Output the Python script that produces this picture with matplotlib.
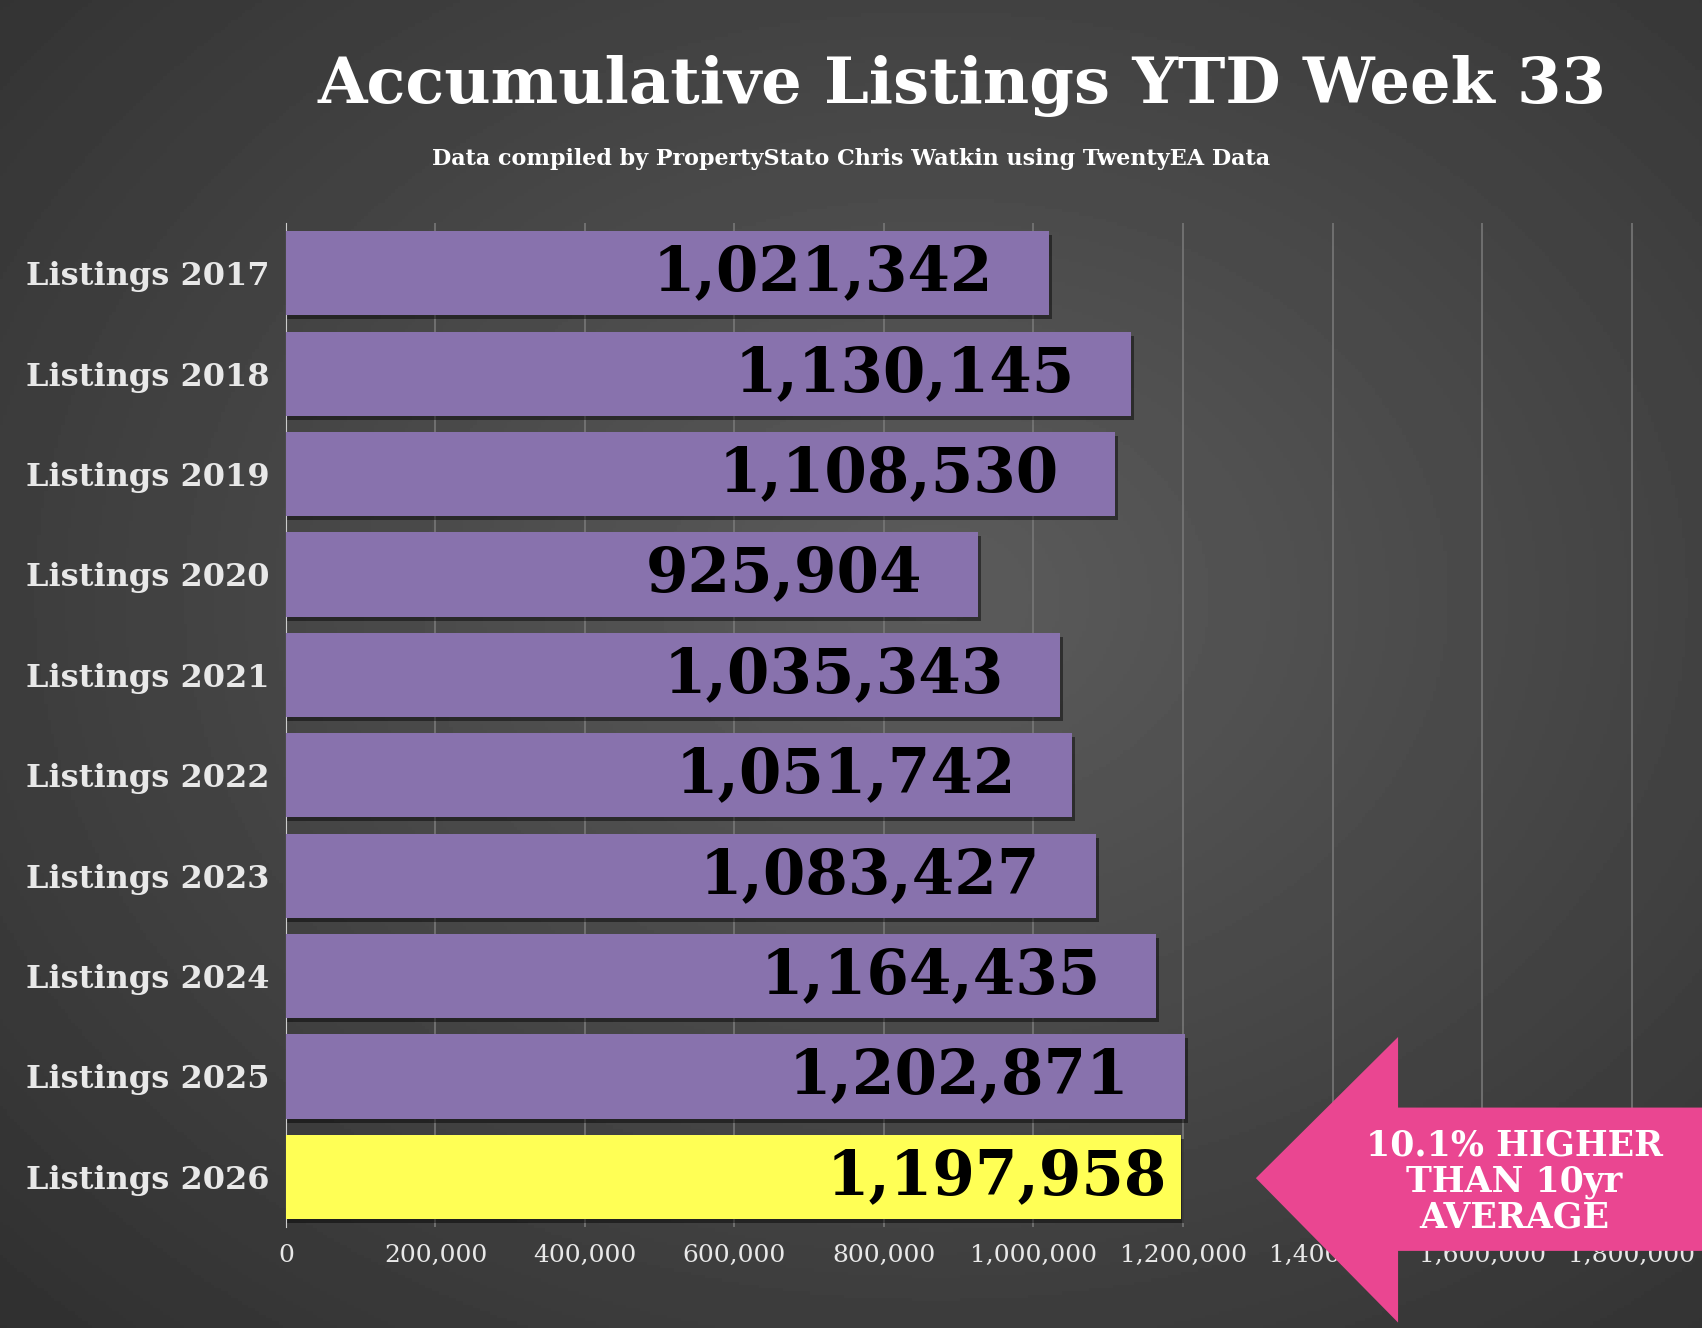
import matplotlib.pyplot as plt
import numpy as np
from matplotlib.patches import Polygon

# data
years = ["Listings 2017", "Listings 2018", "Listings 2019", "Listings 2020", "Listings 2021",
         "Listings 2022", "Listings 2023", "Listings 2024", "Listings 2025", "Listings 2026"]
values = [1021342, 1130145, 1108530, 925904, 1035343, 1051742, 1083427, 1164435, 1202871, 1197958]
ticks = [0, 200000, 400000, 600000, 800000, 1000000, 1200000, 1400000, 1600000, 1800000]

fig = plt.figure(figsize=(17.02, 13.28), dpi=100)

# radial gradient background
bg = fig.add_axes([0, 0, 1, 1])
yy, xx = np.mgrid[0:1:400j, 0:1:500j]
r = np.sqrt(((xx - 0.55) / 0.9) ** 2 + ((yy - 0.45) / 0.9) ** 2)
bg.imshow(0.36 - 0.2 * r, cmap="gray", vmin=0, vmax=1, aspect="auto", extent=[0, 1, 0, 1])
bg.axis("off")

ax = fig.add_axes([0.168, 0.076, 0.795, 0.756])
ax.patch.set_alpha(0)
y = np.arange(len(years))[::-1]
colors = ["#8872ad"] * (len(years) - 1) + ["#ffff55"]
# shadow
ax.barh(y - 0.04, [v + 4000 for v in values], height=0.84, color="black", alpha=0.45, zorder=2)
ax.barh(y, values, height=0.84, color=colors, zorder=3)
for yi, v in zip(y, values):
    off = 20000 if v == values[-1] else 75000
    ax.text(v - off, yi, f"{v:,}", ha="right", va="center", fontsize=44,
            fontweight="bold", family="DejaVu Serif", color="black", zorder=4)

ax.set_xlim(0, 1810000)
ax.set_ylim(-0.5, len(years) - 0.5)
ax.set_xticks(ticks)
ax.set_xticklabels([f"{t:,}" for t in ticks], family="DejaVu Serif", fontsize=18, color="#e8e8e8")
ax.set_yticks(y)
ax.set_yticklabels(years, family="DejaVu Serif", fontsize=23, color="#e8e8e8", fontweight="semibold")
ax.tick_params(length=0, pad=12)
ax.xaxis.grid(True, color="#777777", lw=1.2, zorder=0)
for s in ["top", "right", "bottom"]:
    ax.spines[s].set_visible(False)
ax.spines["left"].set_color("#cccccc")

fig.text(0.565, 0.935, "Accumulative Listings YTD Week 33", ha="center", va="center",
         fontsize=46, fontweight="bold", family="DejaVu Serif", color="white")
fig.text(0.5, 0.88, "Data compiled by PropertyStato Chris Watkin using TwentyEA Data",
         ha="center", va="center", fontsize=16, fontweight="bold", family="DejaVu Serif", color="white")

# arrow callout
W, H = 1568, 1223
pts = [(1157, 1085), (1288, 955), (1288, 1020), (1568, 1020), (1568, 1152), (1288, 1152), (1288, 1218)]
fig.patches.append(Polygon([(px / W, 1 - py / H) for px, py in pts], closed=True,
                           facecolor="#ea4691", edgecolor="none", transform=fig.transFigure, zorder=10))
fig.text(1395 / W, 1 - 1088 / H, "10.1% HIGHER\nTHAN 10yr\nAVERAGE", ha="center", va="center",
         fontsize=25, fontweight="bold", family="DejaVu Serif", color="white", zorder=11, linespacing=1.05)

fig.savefig("out.png", dpi=100)
